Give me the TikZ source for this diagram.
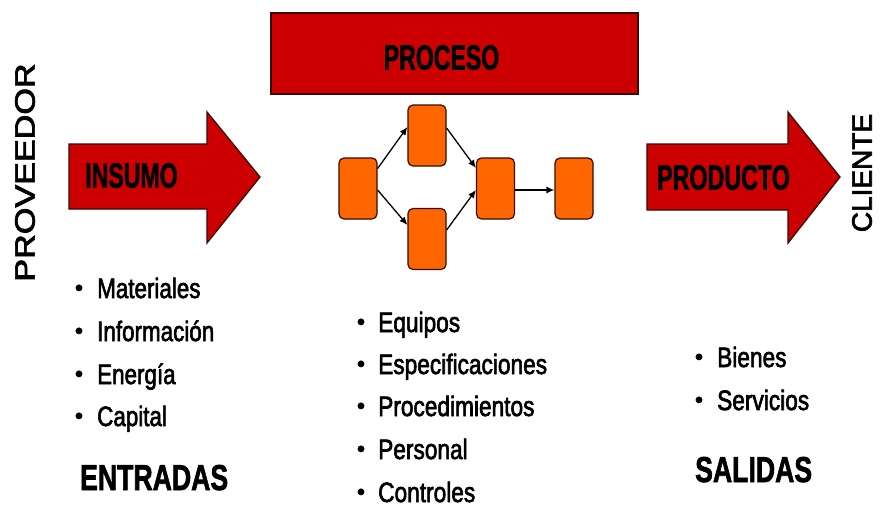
\documentclass[tikz,border=0pt]{standalone}
\usepackage{fontspec}
\setmainfont{Liberation Sans}
\newfontfamily\itemfont[FakeBold=2.5]{Liberation Sans}
\newfontfamily\headfont[FakeBold=2]{Liberation Sans Bold}
\usetikzlibrary{arrows.meta}
\definecolor{pred}{HTML}{CC0000}
\definecolor{porange}{HTML}{FF6600}
\definecolor{pedge}{HTML}{3A0A00}
\begin{document}
\begin{tikzpicture}[x=1pt,y=-1pt,
  shapefill/.style={fill=pred,draw=pedge,line width=1.3pt,line join=miter},
  pbox/.style={draw=pedge,fill=porange,line width=1.2pt,rounded corners=5pt,minimum width=38pt,minimum height=61pt,inner sep=0pt},
  flow/.style={-{Latex[length=8pt,width=7pt]},line width=1.3pt},
  head/.style={inner sep=0pt,font=\fontsize{35}{35}\headfont},
  bighead/.style={inner sep=0pt,anchor=base west,font=\fontsize{36}{36}\headfont},
  item/.style={inner sep=0pt,anchor=base west,font=\fontsize{28}{28}\itemfont},
  bul/.style={inner sep=0pt,anchor=base,font=\fontsize{23}{23}\itemfont},
  side/.style={inner sep=0pt,rotate=90,font=\fontsize{28}{28}\itemfont}]
\useasboundingbox (0,0) rectangle (880,511);
\fill[white] (0,0) rectangle (880,511);

% process bar
\draw[shapefill] (271,13) rectangle (638,94);
\node[head] (proceso) at (441.5,57.5) {\scalebox{0.66}[1]{PROCESO}};

% input arrow
\draw[shapefill] (69,144) -- (207,144) -- (207,112) -- (260,177) -- (207,243) -- (207,209) -- (69,209) -- cycle;
\node[head] (insumo) at (131.5,175.5) {\scalebox{0.66}[1]{INSUMO}};

% output arrow
\draw[shapefill] (647,144) -- (788,144) -- (788,112) -- (840,177) -- (788,243) -- (788,210) -- (647,210) -- cycle;
\node[head] (producto) at (723.5,177.5) {\scalebox{0.665}[1]{PRODUCTO}};

% side labels
\node[side] (prov) at (25,172.5) {\scalebox{1.22}[1]{PROVEEDOR}};
\node[side] (cliente) at (862,173) {CLIENTE};

% process boxes
\node[pbox] (b1) at (358,188.5) {};
\node[pbox] (b2) at (427,135.5) {};
\node[pbox] (b3) at (427,239) {};
\node[pbox] (b4) at (495.5,188.5) {};
\node[pbox] (b5) at (574,188.5) {};

\draw[flow] ([yshift=20pt]b1.east) -- ([yshift=8.5pt]b2.west);
\draw[flow] ([yshift=-1.5pt]b1.east) -- ([yshift=14pt]b3.west);
\draw[flow] ([yshift=7.5pt]b2.east) -- ([yshift=20.5pt]b4.west);
\draw[flow] ([yshift=9pt]b3.east) -- ([yshift=-1.5pt]b4.west);
\draw[flow] ([yshift=-1.5pt]b4.east) -- ([yshift=-1.5pt]b5.west);

% left list
\node[bul] (bl1) at (79,298) {\raisebox{2.5pt}{•}};
\node[item] (l1) at (97,298) {\scalebox{0.8}[1]{Materiales}};
\node[bul] (bl2) at (79,341) {\raisebox{2.5pt}{•}};
\node[item] (l2) at (97,341) {\scalebox{0.8}[1]{Información}};
\node[bul] (bl3) at (79,384) {\raisebox{2.5pt}{•}};
\node[item] (l3) at (97,384) {\scalebox{0.8}[1]{Energía}};
\node[bul] (bl4) at (79,426) {\raisebox{2.5pt}{•}};
\node[item] (l4) at (97,426) {\scalebox{0.8}[1]{Capital}};
\node[bighead] (entradas) at (80,490) {\scalebox{0.74}[1]{ENTRADAS}};

% middle list
\node[bul] (bm1) at (361,332) {\raisebox{2.5pt}{•}};
\node[item] (m1) at (378,332) {\scalebox{0.81}[1]{Equipos}};
\node[bul] (bm2) at (361,374) {\raisebox{2.5pt}{•}};
\node[item] (m2) at (378,374) {\scalebox{0.81}[1]{Especificaciones}};
\node[bul] (bm3) at (361,416) {\raisebox{2.5pt}{•}};
\node[item] (m3) at (378,416) {\scalebox{0.81}[1]{Procedimientos}};
\node[bul] (bm4) at (361,459) {\raisebox{2.5pt}{•}};
\node[item] (m4) at (378,459) {\scalebox{0.81}[1]{Personal}};
\node[bul] (bm5) at (361,502) {\raisebox{2.5pt}{•}};
\node[item] (m5) at (378,502) {\scalebox{0.81}[1]{Controles}};

% right list
\node[bul] (br1) at (699,367) {\raisebox{2.5pt}{•}};
\node[item] (r1) at (717,367) {\scalebox{0.81}[1]{Bienes}};
\node[bul] (br2) at (699,410) {\raisebox{2.5pt}{•}};
\node[item] (r2) at (717,410) {\scalebox{0.81}[1]{Servicios}};
\node[bighead] (salidas) at (695,482) {\scalebox{0.74}[1]{SALIDAS}};
\end{tikzpicture}
\end{document}
